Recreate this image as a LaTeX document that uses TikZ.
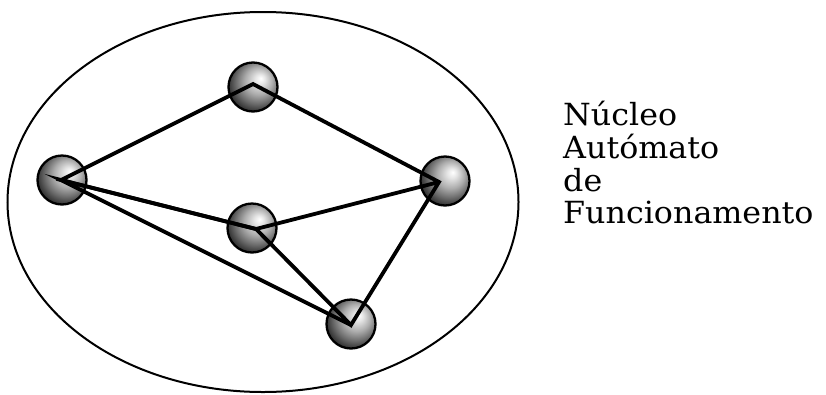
\documentclass[tikz,border=0pt]{standalone}
\usepackage{fontspec}
\usetikzlibrary{shapes.geometric}
\newfontfamily\lblfont[FakeStretch=1.04]{DejaVu Serif}
% grey sphere with its highlight towards the upper right
\pgfdeclareradialshading{greyball}{\pgfqpoint{8bp}{9bp}}{%
  color(0bp)=(white);
  color(5bp)=(gray!20);
  color(14bp)=(gray!65);
  color(22bp)=(gray!85!black);
  color(28bp)=(gray!45!black);
  color(34bp)=(black!85);
  color(50bp)=(black)}
\tikzset{
  sph/.style={circle, minimum size=49pt, inner sep=0pt, draw=black,
    line width=2.3pt, shading=greyball},
  edge/.style={line width=3.8pt, line join=miter},
  lbl/.style={anchor=base west, inner sep=0pt,
    font=\lblfont\fontsize{30.5}{33}\selectfont}
}
\begin{document}
\begin{tikzpicture}[x=1pt, y=-1pt]
  \useasboundingbox (0,0) rectangle (826,394);
  % enclosing ellipse
  \node[draw, line width=2pt, ellipse, minimum width=511pt,
    minimum height=380pt, inner sep=0pt] (core) at (263,202) {};
  % spheres
  \node[sph] (A) at (62,180) {};
  \node[sph] (B) at (253,87) {};
  \node[sph] (C) at (445,181) {};
  \node[sph] (D) at (252,228) {};
  \node[sph] (E) at (351,324) {};
  % connections between the sphere centres
  \coordinate (a) at (61,180);
  \coordinate (b) at (253,84);
  \coordinate (c) at (439,182);
  \coordinate (d) at (256,229);
  \coordinate (e) at (351,325);
  \draw[edge] (d) -- (a) -- (b) -- (c) -- (e) -- (d) -- (c);
  \draw[edge] (d) -- (a) -- (e);
  % labels
  \node[lbl] (l1) at (563,125) {Núcleo};
  \node[lbl] (l2) at (563,158) {Autómato};
  \node[lbl] (l3) at (563,191) {de};
  \node[lbl] (l4) at (563,223) {Funcionamento};
\end{tikzpicture}
\end{document}
